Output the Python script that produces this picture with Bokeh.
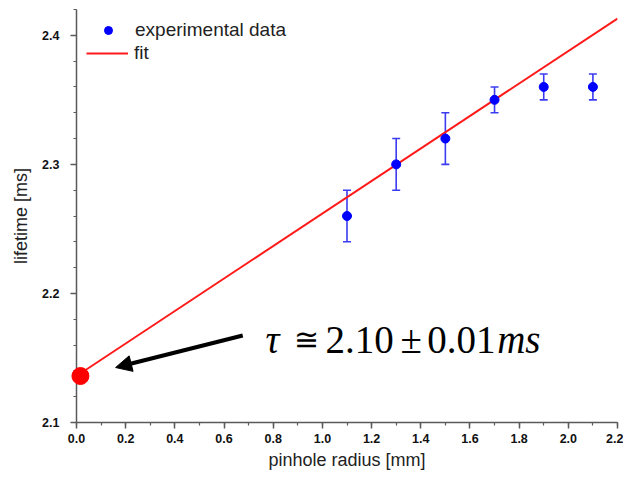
from bokeh.plotting import figure
from bokeh.models import (Whisker, TeeHead, ColumnDataSource, FixedTicker, NumeralTickFormatter,
                          Legend, LegendItem, Arrow, NormalHead)
from bokeh.core.properties import value
from bokeh.embed import file_html
from bokeh.resources import INLINE

# data
radius = [1.1, 1.3, 1.5, 1.7, 1.9, 2.1]
lifetime = [2.26, 2.30, 2.32, 2.35, 2.36, 2.36]
err = [0.02, 0.02, 0.02, 0.01, 0.01, 0.01]
fit_x = [0.0, 2.2]
fit_y = [2.136, 2.413]
intercept_x = [0.016]
intercept_y = [2.136]
x_ticks = [0.0, 0.2, 0.4, 0.6, 0.8, 1.0, 1.2, 1.4, 1.6, 1.8, 2.0, 2.2]
x_minor = [round(0.1 * i, 2) for i in range(23)]
y_ticks = [2.1, 2.2, 2.3, 2.4]
y_minor = [round(2.1 + 0.02 * i, 3) for i in range(17)]

ann_pieces = ["τ", "≅", "2.10", "±", "0.01", "ms"]
ann_italic = [True, False, False, False, False, True]
ann_fonts = ["Liberation Serif", "DejaVu Serif", "Liberation Serif", "Liberation Serif",
             "Liberation Serif", "Liberation Serif"]
ann_sizes = ["39px", "30px", "39px", "39px", "39px", "39px"]
ann_x = [0.7685, 0.8850, 1.0126, 1.3175, 1.4261, 1.7108]
ann_y = 2.1643

src = ColumnDataSource(dict(x=radius, y=lifetime,
                            lo=[a - b for a, b in zip(lifetime, err)],
                            hi=[a + b for a, b in zip(lifetime, err)]))

p = figure(width=623, height=479, x_range=(0, 2.2), y_range=(2.1, 2.42),
           min_border_left=76, min_border_right=6, min_border_top=9, min_border_bottom=57,
           output_backend="svg", toolbar_location=None)
p.outline_line_color = None
p.grid.visible = False
p.background_fill_color = "white"

axis_col = "#5a5a5a"
for ax in (p.xaxis[0], p.yaxis[0]):
    ax.axis_line_color = axis_col
    ax.axis_line_width = 1.5
    ax.major_tick_line_color = axis_col
    ax.minor_tick_line_color = axis_col
    ax.major_tick_line_width = 1.5
    ax.minor_tick_line_width = 1.2
    ax.major_tick_out = 6
    ax.major_tick_in = 0
    ax.minor_tick_out = 3
    ax.minor_tick_in = 0
    ax.major_label_text_font = "Liberation Sans"
    ax.major_label_text_font_style = "bold"
    ax.major_label_text_font_size = "12.5px"
    ax.major_label_text_color = "#111111"
    ax.axis_label_text_font = "Liberation Sans"
    ax.axis_label_text_font_style = "normal"
    ax.axis_label_text_font_size = "18px"
    ax.axis_label_text_color = "#222222"

p.xaxis.ticker = FixedTicker(ticks=x_ticks, minor_ticks=x_minor)
p.yaxis.ticker = FixedTicker(ticks=y_ticks, minor_ticks=y_minor)
p.xaxis.formatter = NumeralTickFormatter(format="0.0")
p.yaxis.formatter = NumeralTickFormatter(format="0.0")
p.xaxis.axis_label = "pinhole radius [mm]"
p.yaxis.axis_label = "lifetime [ms]"
p.xaxis.major_label_standoff = 5
p.yaxis.major_label_standoff = 11
p.xaxis.axis_label_standoff = 4
p.yaxis.axis_label_standoff = 8

fit_r = p.line(fit_x, fit_y, line_color="#ff1a1a", line_width=2)

wh = Whisker(source=src, base="x", lower="lo", upper="hi",
             line_color="#3b3bf0", line_width=1.6,
             upper_head=TeeHead(size=8, line_color="#3b3bf0", line_width=1.6),
             lower_head=TeeHead(size=8, line_color="#3b3bf0", line_width=1.6))
p.add_layout(wh)
pts = p.scatter("x", "y", source=src, size=9, color="#0000ff")

# intercept dot on the overlay level so it is not cut at the y axis
p.scatter(intercept_x, intercept_y, size=17, color="#ff0000", level="overlay")

p.add_layout(Arrow(end=NormalHead(size=16, fill_color="black", line_color="black", line_width=1),
                   x_start=0.676, y_start=2.1674, x_end=0.159, y_end=2.1426,
                   line_color="black", line_width=4))

for t, it, f, s, xx in zip(ann_pieces, ann_italic, ann_fonts, ann_sizes, ann_x):
    p.text([xx], [ann_y], text=[t], text_font=value(f),
           text_font_style="italic" if it else "normal",
           text_font_size=s, text_color="black",
           text_baseline="alphabetic", text_align="left")

common = dict(margin=0, padding=0, spacing=0, glyph_height=22, label_height=22,
              label_text_font="Liberation Sans", label_text_font_size="19px",
              label_text_color="#222222", border_line_color=None, background_fill_alpha=0)
leg_data = Legend(items=[LegendItem(label="experimental data", renderers=[pts])],
                  location=(22, 381), glyph_width=20, label_standoff=17, **common)
leg_fit = Legend(items=[LegendItem(label="fit", renderers=[fit_r])],
                 location=(10, 358), glyph_width=42, label_standoff=6, **common)
p.add_layout(leg_data)
p.add_layout(leg_fit)

open("out.html", "w").write(file_html(p, INLINE))
